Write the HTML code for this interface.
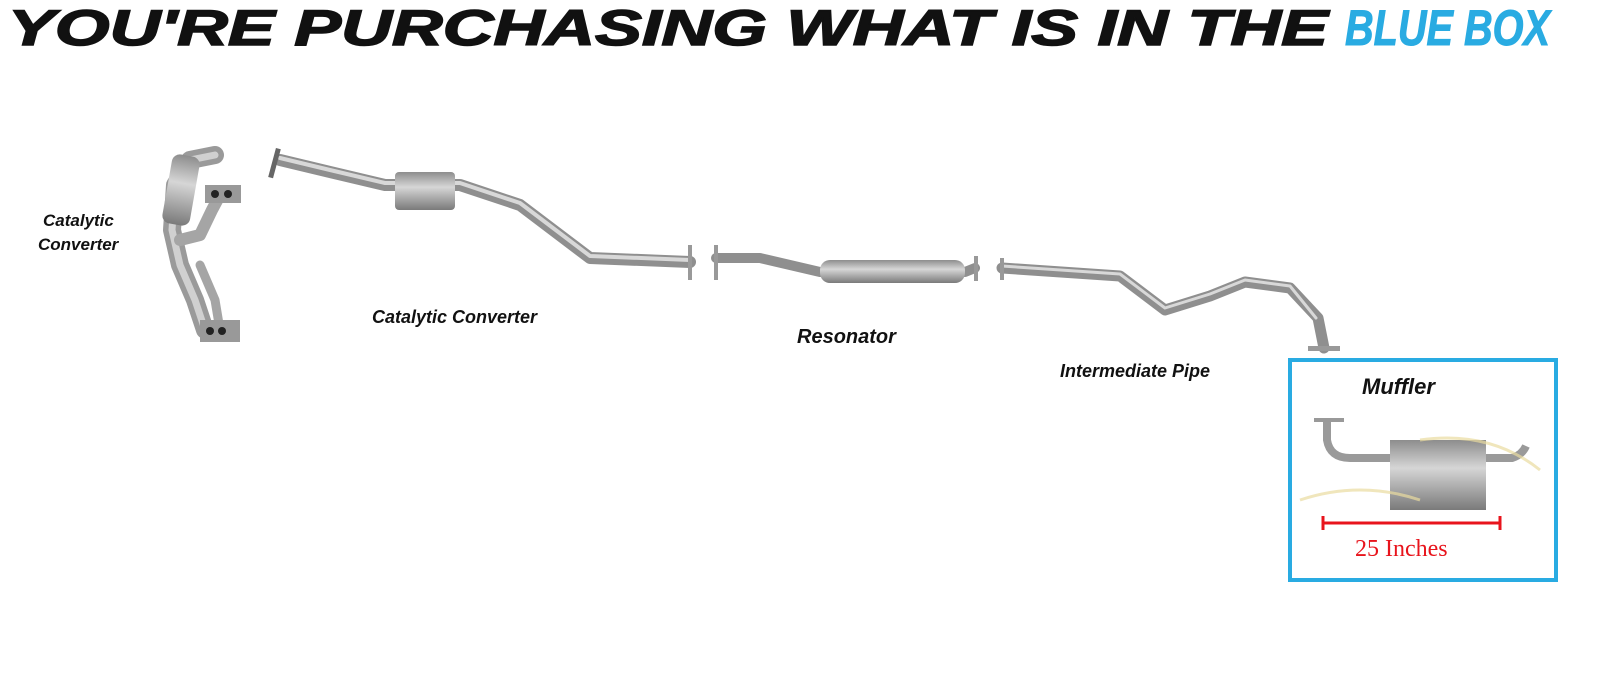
<!DOCTYPE html>
<html><head><meta charset="utf-8"><style>
html,body{margin:0;padding:0;background:#fff;}
svg{display:block}
.l{font-family:"Liberation Sans",sans-serif;font-weight:bold;font-style:italic;fill:#111;}
</style></head><body>
<svg width="1600" height="685" viewBox="0 0 1600 685" xmlns="http://www.w3.org/2000/svg">
<defs>
<linearGradient id="g" x1="0" y1="0" x2="0" y2="1">
<stop offset="0" stop-color="#8d8d8d"/><stop offset="0.4" stop-color="#d6d6d6"/><stop offset="1" stop-color="#7a7a7a"/>
</linearGradient>
</defs>
<text x="8" y="45" class="l" style="font-size:50px;stroke:#111;stroke-width:1.5" textLength="1320" lengthAdjust="spacingAndGlyphs">YOU'RE PURCHASING WHAT IS IN THE</text>
<text x="1345" y="45" class="l" style="font-size:50px;fill:#29abe2;stroke:#29abe2;stroke-width:1" textLength="205" lengthAdjust="spacingAndGlyphs">BLUE BOX</text>

<g fill="none" stroke-linecap="round" stroke-linejoin="round">
<path d="M215 155 L190 160 L175 185 L172 230 L180 265 L195 300 L205 330" stroke="#9a9a9a" stroke-width="18"/>
<path d="M215 155 L190 160 L175 185 L172 230 L180 265 L195 300 L205 330" stroke="#d0d0d0" stroke-width="7"/>
<path d="M180 240 L200 235 L212 210 L220 195" stroke="#a5a5a5" stroke-width="12"/>
<path d="M200 265 L215 300 L220 330" stroke="#a5a5a5" stroke-width="9"/>
<path d="M280 160 L330 172 L385 185 L460 185 L520 205 L590 258 L690 262" stroke="#8f8f8f" stroke-width="12"/>
<path d="M280 158 L330 170 L385 183 L460 183 L520 203 L590 256 L690 260" stroke="#d8d8d8" stroke-width="4"/>
<path d="M716 258 L760 258 L820 272 L965 272 L975 268" stroke="#8f8f8f" stroke-width="10"/>
<path d="M1002 268 L1120 276 L1165 310 L1210 296 L1245 282 L1290 288 L1318 318 L1324 348" stroke="#8f8f8f" stroke-width="11"/>
<path d="M1002 266 L1120 274 L1165 308 L1210 294 L1245 280 L1290 286 L1316 318" stroke="#d8d8d8" stroke-width="3"/>
</g>
<rect x="395" y="172" width="60" height="38" rx="4" fill="url(#g)"/>
<rect x="167" y="155" width="28" height="70" rx="8" fill="url(#g)" transform="rotate(10 181 190)"/>
<rect x="200" y="320" width="40" height="22" fill="#999"/>
<circle cx="210" cy="331" r="4" fill="#222"/><circle cx="222" cy="331" r="4" fill="#222"/>
<rect x="205" y="185" width="36" height="18" fill="#999"/>
<circle cx="215" cy="194" r="4" fill="#222"/><circle cx="228" cy="194" r="4" fill="#222"/>
<rect x="272" y="148" width="5" height="30" fill="#666" transform="rotate(15 274 163)"/>
<rect x="688" y="245" width="4" height="35" fill="#999"/>
<rect x="714" y="245" width="4" height="35" fill="#999"/>
<rect x="974" y="256" width="4" height="25" fill="#999"/>
<rect x="1000" y="258" width="4" height="22" fill="#999"/>
<rect x="1308" y="346" width="32" height="5" fill="#999"/>
<rect x="820" y="260" width="145" height="23" rx="10" fill="url(#g)"/>

<text x="43" y="226" class="l" style="font-size:17px">Catalytic</text>
<text x="38" y="250" class="l" style="font-size:17px">Converter</text>
<text x="372" y="323" class="l" style="font-size:18px">Catalytic Converter</text>
<text x="797" y="343" class="l" style="font-size:20px">Resonator</text>
<text x="1060" y="377" class="l" style="font-size:18px">Intermediate Pipe</text>

<rect x="1290" y="360" width="266" height="220" fill="none" stroke="#29abe2" stroke-width="4"/>
<text x="1362" y="394" class="l" style="font-size:22px">Muffler</text>
<path d="M1327 420 L1327 440 Q1330 458 1350 458 L1392 458" fill="none" stroke="#9a9a9a" stroke-width="8"/>
<rect x="1314" y="418" width="30" height="4" fill="#999"/>
<path d="M1486 458 L1512 458 Q1522 455 1526 446" fill="none" stroke="#9a9a9a" stroke-width="8"/>
<rect x="1390" y="440" width="96" height="70" fill="url(#g)"/>
<path d="M1300 500 Q1360 480 1420 500 M1420 440 Q1490 430 1540 470" fill="none" stroke="#eadca0" stroke-width="3" opacity="0.7"/>
<path d="M1323 523 L1500 523 M1323 516 L1323 530 M1500 516 L1500 530" stroke="#e8141c" stroke-width="3"/>
<text x="1355" y="556" style="font-family:'Liberation Serif',serif;font-size:24px;fill:#e8141c">25 Inches</text>
</svg>
</body></html>
